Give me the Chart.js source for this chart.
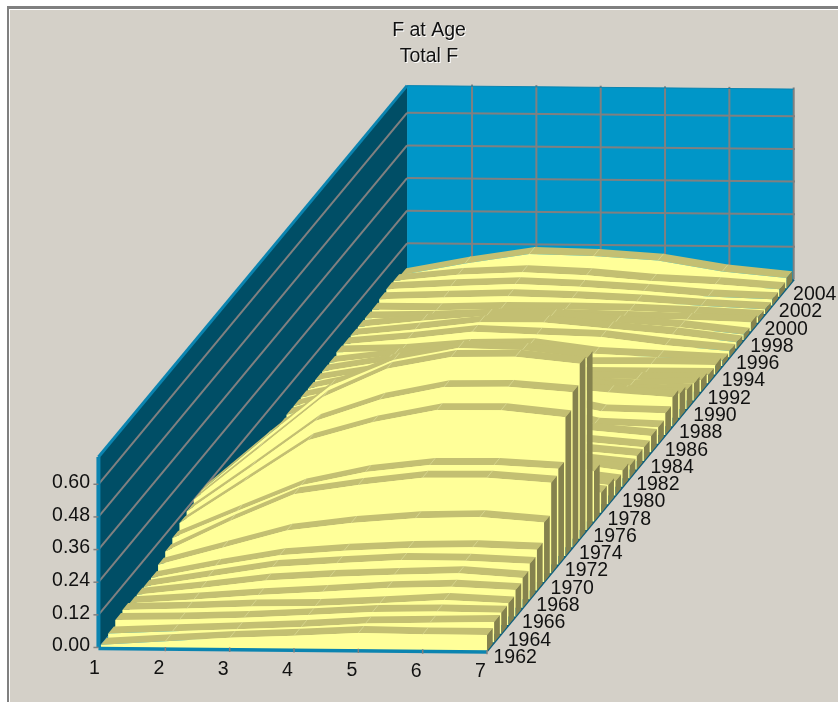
<!DOCTYPE html>
<html>
<head>
<meta charset="utf-8">
<title>F at Age</title>
<script src="https://cdn.jsdelivr.net/npm/chart.js@4/dist/chart.umd.min.js"></script>
<style>
  html, body { margin: 0; padding: 0; background: #fff; overflow: hidden; }
  #frame { position: absolute; left: 7px; top: 6px; width: 831px; height: 696px; box-sizing: border-box;
           border-top: 3px solid #808080; border-left: 2px solid #808080; background: #fff; }
  #panel { position: absolute; left: 1px; top: 1px; right: 0; bottom: 0; background: #d4d0c8; }
  #chart { position: absolute; left: 0; top: 0; }
</style>
</head>
<body>
<div id="frame"><div id="panel"></div></div>
<canvas id="chart" width="838" height="702"></canvas>
<script>
// Data
const titleLines = ['F at Age', 'Total F'];
const ages = [1, 2, 3, 4, 5, 6, 7];
const fTicks = [0.00, 0.12, 0.24, 0.36, 0.48, 0.60];
const fMax = 0.70;
const years = [];
for (let y = 1962; y <= 2004; y++) years.push(y);
const yearLabels = years.filter(y => y % 2 === 0);

// one row per year, one value per age
const fByYear = [
  [.010, .025, .040, .050, .062, .059, .059], // 1962
  [.020, .030, .040, .050, .065, .070, .075],
  [.038, .042, .050, .062, .076, .080, .077],
  [.043, .050, .060, .064, .076, .090, .080],
  [.036, .052, .070, .084, .100, .107, .097],
  [.035, .062, .092, .107, .117, .125, .110],
  [.033, .072, .110, .126, .140, .139, .130],
  [.033, .080, .121, .140, .152, .157, .150],
  [.050, .115, .180, .210, .230, .236, .218], // 1970
  [.067, .180, .282, .318, .347, .349, .333],
  [.085, .185, .283, .334, .362, .364, .352],
  [.108, .262, .417, .485, .532, .534, .510],
  [.119, .285, .456, .536, .585, .588, .570],
  [.130, .320, .511, .618, .664, .667, .643],
  [.130, .330, .520, .620, .665, .660, .632],
  [.050, .200, .300, .330, .300, .240, .184],
  [.030, .110, .160, .160, .140, .100, .074],
  [.030, .100, .150, .150, .130, .100, .070],
  [.020, .090, .140, .140, .120, .080, .052], // 1980
  [.020, .100, .150, .150, .120, .090, .060],
  [.020, .090, .140, .130, .110, .070, .046],
  [.020, .090, .130, .130, .100, .070, .050],
  [.020, .090, .130, .130, .100, .070, .050],
  [.020, .100, .140, .140, .110, .080, .060],
  [.020, .100, .150, .150, .120, .068, .060],
  [.025, .100, .150, .150, .130, .085, .080],
  [.030, .100, .150, .160, .140, .123, .107],
  [.030, .090, .140, .140, .130, .080, .088],
  [.030, .080, .120, .120, .110, .060, .070], // 1990
  [.030, .080, .110, .110, .060, .050, .062],
  [.030, .070, .090, .080, .045, .045, .043],
  [.030, .070, .090, .080, .030, .030, .030],
  [.030, .060, .090, .080, .034, .036, .035],
  [.037, .044, .065, .070, .040, .030, .020],
  [.035, .057, .085, .077, .070, .042, .023],
  [.035, .060, .088, .090, .070, .050, .023],
  [.035, .060, .080, .080, .060, .045, .020],
  [.035, .040, .050, .050, .045, .040, .033],
  [.035, .035, .042, .042, .040, .032, .020], // 2000
  [.042, .050, .057, .052, .042, .028, .018],
  [.047, .060, .070, .062, .049, .031, .023],
  [.045, .070, .082, .073, .054, .044, .028],
  [.035, .080, .117, .112, .097, .059, .037]  // 2004
];

// Oblique projection of (age, year position, F) onto the chart's x/y scales
const rowCount = years.length;
const blockDepth = 0.8;

function project(age, row, f) {
  const a = (age - 1) / 6;
  const t = row / rowCount;
  return {
    x: 101 + 386 * a + 306.7 * t,
    y: 647.5 + 3.5 * a - 371.5 * t - 272 * f
  };
}

const colors = {
  face: '#ffff99',
  top: '#c3bf72',
  side: '#85824e',
  backWall: '#0096c8',
  leftWall: '#004e66',
  floor: '#0b83b0',
  edge: '#0b84b0',
  baseLine: '#0c5f7e',
  grid: '#808080',
  seam: '#dcdc96'
};

function polygon(points, color) {
  return { data: points, backgroundColor: color, fill: 'shape', borderWidth: 0, pointRadius: 0 };
}
function stroke(points, color, width) {
  return { data: points, borderColor: color, borderWidth: width, fill: false, pointRadius: 0, spanGaps: false };
}

// Datasets paint last to first, so collect them back to front and reverse at the end
const layers = [];
const wallFront = 0.96;   // wall corner sits a little left of age 1 at the front
const wallBack = 0.99;
const ageRight = 7;

layers.push(polygon([project(wallBack, rowCount, 0), project(ageRight, rowCount, 0), project(ageRight, rowCount, fMax), project(wallBack, rowCount, fMax)], colors.backWall));
layers.push(polygon([project(wallFront, 0, 0), project(wallBack, rowCount, 0), project(wallBack, rowCount, fMax), project(wallFront, 0, fMax)], colors.leftWall));
layers.push(polygon([project(wallFront, 0, 0), project(ageRight, 0, 0), project(ageRight, rowCount, 0), project(wallBack, rowCount, 0)], colors.floor));

// wall grid
fTicks.slice(1).forEach(f => {
  layers.push(stroke([project(wallBack, rowCount, f), project(ageRight + 0.02, rowCount, f)], colors.grid, 2));
  layers.push(stroke([project(wallFront, 0, f), project(wallBack, rowCount, f)], colors.grid, 2));
});
ages.slice(1).forEach(age => {
  layers.push(stroke([project(age, rowCount, 0), project(age, rowCount, fMax + 0.006)], colors.grid, 2));
});

// wall edges
layers.push(stroke([project(wallFront, 0, fMax), project(wallBack, rowCount, fMax)], colors.edge, 3));
layers.push(stroke([project(wallBack, rowCount, fMax), project(ageRight, rowCount, fMax)], colors.edge, 1));
layers.push(stroke([project(wallFront, 0, 0), project(wallFront, 0, fMax)], colors.edge, 4));
layers.push(stroke([project(ageRight, 0, 0), project(ageRight, rowCount, 0)], colors.baseLine, 2.5));

// one block per year, back row first
for (let row = rowCount - 1; row >= 0; row--) {
  const values = fByYear[row];
  const back = row + blockDepth;

  const topEdge = ages.map((age, i) => project(age, row, values[i]));
  const backEdge = ages.map((age, i) => project(age, back, values[i])).reverse();
  const floorEdge = ages.map(age => project(age, row, 0));

  layers.push(polygon(topEdge.concat(backEdge), colors.top));
  layers.push(polygon(floorEdge.concat(topEdge.slice().reverse()), colors.face));
  layers.push(polygon([
    project(7, row, 0), project(7, row, values[6]), project(7, back, values[6]), project(7, back, 0)
  ], colors.side));

  // pale seams across the top at each age
  const seams = [];
  ages.slice(1, 6).forEach((age, i) => {
    seams.push(project(age, row, values[i + 1]), project(age, back, values[i + 1]), { x: null, y: null });
  });
  layers.push(stroke(seams, colors.seam, 0.7));
}

// front stripe goes over the first block
layers.push(stroke([project(wallFront, 0, -0.004), project(ageRight, 0, -0.004)], colors.edge, 3.5));
ages.slice(1).forEach(age => {
  layers.push(stroke([project(age, 0, 0.004), project(age, 0, -0.012)], colors.grid, 1.5));
});
fTicks.forEach(f => {
  const p = project(wallFront, 0, f);
  layers.push(stroke([{ x: p.x - 5, y: p.y }, { x: p.x, y: p.y }], colors.grid, 1.5));
});

// Axis and title text, placed through the same scales as the marks
const textPlugin = {
  id: 'surfaceText',
  afterDraw(chart) {
    const { ctx, scales } = chart;
    const at = p => ({ x: scales.x.getPixelForValue(p.x), y: scales.y.getPixelForValue(p.y) });
    ctx.save();
    ctx.font = '19.5px "Liberation Sans", Arial, sans-serif';
    ctx.textBaseline = 'middle';

    ctx.textAlign = 'center';
    titleLines.forEach((line, i) => {
      const y = 31 + i * 25.5;
      ctx.fillStyle = '#ffffff';
      ctx.fillText(line, 430, y + 1);
      ctx.fillStyle = '#111111';
      ctx.fillText(line, 429, y);
    });

    ages.forEach(age => {
      const p = at(project(age, 0, 0));
      ctx.fillText(String(age), p.x - 6.5, p.y + 21);
    });

    ctx.textAlign = 'right';
    fTicks.forEach(f => {
      const p = at(project(1, 0, f));
      ctx.fillText(f.toFixed(2), 90, p.y - 1.5);
    });

    ctx.textAlign = 'left';
    yearLabels.forEach(year => {
      const p = at(project(7, years.indexOf(year), 0));
      ctx.fillText(String(year), p.x + 6.5, p.y + 6.5);
    });
    ctx.restore();
  }
};

new Chart(document.getElementById('chart'), {
  type: 'line',
  data: { datasets: layers.reverse() },
  options: {
    responsive: false,
    animation: false,
    devicePixelRatio: 1,
    layout: { padding: 0 },
    elements: { line: { tension: 0 } },
    plugins: { legend: { display: false }, tooltip: { enabled: false }, title: { display: false } },
    scales: {
      x: { type: 'linear', min: 0, max: 838, display: false },
      y: { type: 'linear', min: 0, max: 702, reverse: true, display: false }
    }
  },
  plugins: [textPlugin]
});
</script>
</body>
</html>
